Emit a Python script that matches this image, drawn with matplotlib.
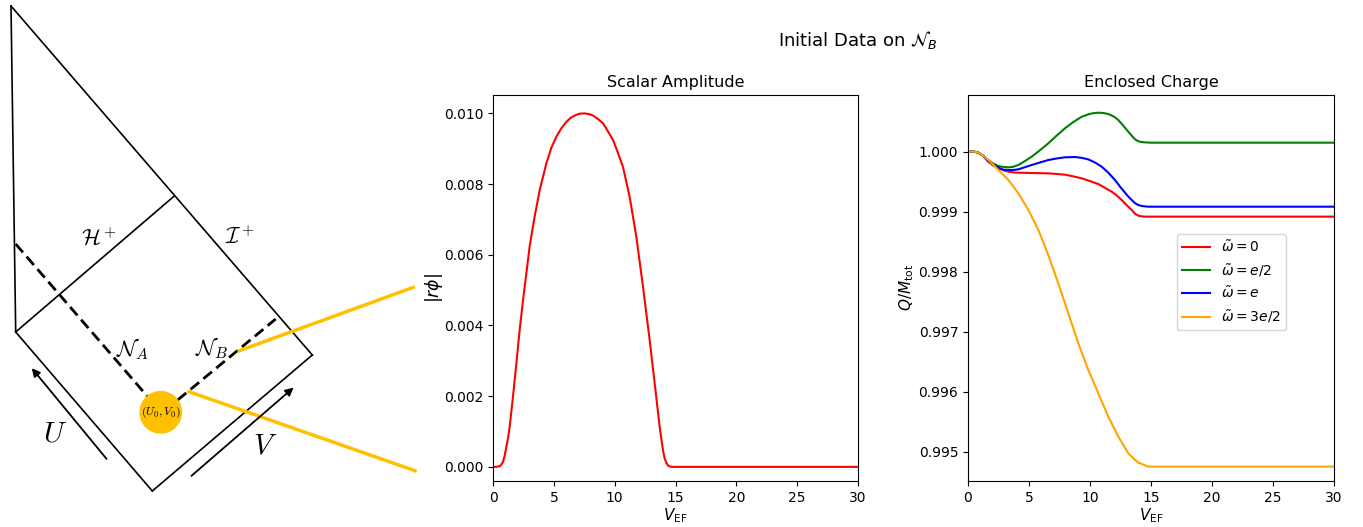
import matplotlib
matplotlib.use("Agg")
import matplotlib.pyplot as plt
from matplotlib.patches import Circle

# ---- data ----
v_amp = [0, 0.3, 0.55, 0.68, 0.82, 0.95, 1.10, 1.23, 1.37, 1.64, 1.92, 2.19, 2.47,
         2.74, 3.01, 3.42, 3.84, 4.38, 4.8, 5.21, 5.6, 6.03, 6.4, 6.85, 7.1, 7.53,
         7.9, 8.22, 8.6, 9.04, 9.4, 9.86, 10.2, 10.68, 11.23, 11.78, 12.33, 12.88,
         13.29, 13.70, 13.97, 14.1, 14.25, 14.38, 14.52, 14.7, 15.34, 30]
r_phi = [0, 0, 0.00002, 0.00006, 0.00014, 0.0003, 0.00057, 0.0008, 0.00113, 0.00198,
         0.00292, 0.00387, 0.00472, 0.00547, 0.00623, 0.00708, 0.00783, 0.00858,
         0.00903, 0.00934, 0.00957, 0.00976, 0.00988, 0.00996, 0.00999, 0.01000,
         0.00998, 0.00994, 0.00985, 0.00972, 0.00952, 0.00925, 0.00895, 0.00849,
         0.00764, 0.00651, 0.00509, 0.00358, 0.00236, 0.00113, 0.00047, 0.00025,
         0.00011, 0.00004, 0.00001, 0, 0, 0]

v_red = [0, 0.5, 0.85, 1.25, 1.67, 2.08, 2.49, 2.9, 3.31, 3.7, 4.13, 5.22, 6.58, 7.95,
         8.6, 9.32, 10.0, 10.68, 11.2, 11.78, 12.2, 12.6, 13.0, 13.42, 13.7, 13.96,
         14.2, 14.51, 30]
q_red = [1.0, 1.0, 0.999983, 0.99993, 0.999833, 0.99977, 0.999722, 0.99969, 0.999667,
         0.999655, 0.99965, 0.999644, 0.999639, 0.999617, 0.99959, 0.999556, 0.99951,
         0.999461, 0.9994, 0.999333, 0.99927, 0.999194, 0.99911, 0.999028, 0.998965,
         0.998933, 0.998922, 0.998917, 0.998917]

v_green = [0, 0.5, 0.85, 1.25, 1.67, 2.08, 2.49, 2.9, 3.31, 3.7, 4.13, 4.6, 5.22, 5.9,
           6.58, 7.25, 7.95, 8.6, 9.32, 9.9, 10.3, 10.68, 11.1, 11.5, 12.0, 12.32, 12.7,
           13.14, 13.45, 13.69, 13.95, 14.23, 14.6, 15.05, 30]
q_green = [1.0, 1.0, 0.999983, 0.99993, 0.999861, 0.99980, 0.999761, 0.999745,
           0.999739, 0.999748, 0.999778, 0.999835, 0.999917, 1.000025, 1.000139,
           1.000265, 1.000389, 1.00049, 1.000583, 1.000625, 1.000643, 1.00065,
           1.000645, 1.000628, 1.00058, 1.000528, 1.00044, 1.000333, 1.00026,
           1.000206, 1.000175, 1.000161, 1.000154, 1.00015, 1.00015]

v_blue = [0, 0.5, 0.85, 1.25, 1.67, 2.08, 2.49, 2.9, 3.31, 3.7, 4.13, 5.22, 6.0, 6.58,
          7.3, 7.95, 8.77, 9.3, 9.86, 10.4, 10.96, 11.5, 12.05, 12.45, 12.87, 13.15,
          13.42, 13.7, 13.96, 14.3, 14.78, 30]
q_blue = [1.0, 1.0, 0.999983, 0.99993, 0.999844, 0.99978, 0.999733, 0.99970, 0.999694,
          0.999695, 0.999706, 0.999778, 0.999826, 0.999861, 0.999888, 0.999906,
          0.999911, 0.999898, 0.999872, 0.99982, 0.99975, 0.99965, 0.999528, 0.99942,
          0.999317, 0.99925, 0.999194, 0.99914, 0.999111, 0.999092, 0.999083, 0.999083]

v_orange = [0, 0.5, 0.85, 1.25, 1.67, 2.08, 2.49, 3.31, 4.13, 4.95, 5.77, 6.58, 7.40,
            8.22, 9.04, 9.86, 10.68, 11.5, 12.32, 13.14, 13.6, 13.96, 14.4, 14.78, 30]
q_orange = [1.0, 1.0, 0.999983, 0.99993, 0.999861, 0.99978, 0.999694, 0.999528,
            0.999306, 0.999028, 0.998694, 0.998278, 0.997806, 0.997306, 0.996806,
            0.996361, 0.995972, 0.995583, 0.99525, 0.994972, 0.99488, 0.994817,
            0.99478, 0.99475, 0.99475]

labels = [r'$\tilde{\omega}=0$', r'$\tilde{\omega}=e/2$', r'$\tilde{\omega}=e$',
          r'$\tilde{\omega}=3e/2$']
colors = ['red', 'green', 'blue', 'orange']

# ---- diagram geometry (pixel positions in the left panel) ----
apex = (11, 6)
left_corner = (15.7, 332)
right_corner = (312.3, 355)
bottom_corner = (152.3, 491)
horizon_top = (174.3, 196)
na_line = [(15.7, 244), (147.7, 396.7)]
nb_line = [(177.7, 400), (275.7, 319)]
dot = (160.7, 412.3)
gold = '#ffc000'

fig = plt.figure(figsize=(13.63, 5.27), dpi=100)

# left panel: conformal diagram
ax0 = fig.add_axes([0, 0, 420 / 1363, 1])
ax0.set_xlim(0, 420)
ax0.set_ylim(527, 0)
ax0.axis('off')

def seg(p, q, **kw):
    ax0.plot([p[0], q[0]], [p[1], q[1]], **kw)

seg(apex, left_corner, color='k', lw=1.2)
seg(apex, right_corner, color='k', lw=1.2)
seg(left_corner, horizon_top, color='k', lw=1.2)
seg(left_corner, bottom_corner, color='k', lw=1.2)
seg(bottom_corner, right_corner, color='k', lw=1.2)
seg(na_line[0], na_line[1], color='k', lw=2, dashes=(4, 2))
seg(nb_line[0], nb_line[1], color='k', lw=2, dashes=(4, 2))
seg((239.3, 350.7), (413.3, 287.3), color=gold, lw=2.5)
seg((189, 391.7), (415, 470.7), color=gold, lw=2.5)
ax0.add_patch(Circle(dot, 20.7, color=gold, zorder=3))
ax0.text(dot[0], dot[1], r'$(U_0,V_0)$', ha='center', va='center', fontsize=8.5,
         math_fontfamily='cm', zorder=4)
ax0.annotate('', xy=(30, 366), xytext=(108.3, 461),
             arrowprops=dict(arrowstyle='-|>', color='k', lw=1.3, mutation_scale=12))
ax0.annotate('', xy=(295.7, 385.7), xytext=(189.3, 477.7),
             arrowprops=dict(arrowstyle='-|>', color='k', lw=1.3, mutation_scale=12))
ax0.text(99, 238, r'$\mathcal{H}^+$', ha='center', va='center', fontsize=16, math_fontfamily='cm')
ax0.text(240, 237, r'$\mathcal{I}^+$', ha='center', va='center', fontsize=16, math_fontfamily='cm')
ax0.text(132.7, 349, r'$\mathcal{N}_A$', ha='center', va='center', fontsize=16, math_fontfamily='cm')
ax0.text(212, 348, r'$\mathcal{N}_B$', ha='center', va='center', fontsize=16, math_fontfamily='cm')
ax0.text(55, 433, r'$U$', ha='center', va='center', fontsize=21, math_fontfamily='cm')
ax0.text(265, 445, r'$V$', ha='center', va='center', fontsize=21, math_fontfamily='cm')

# middle panel
ax1 = fig.add_axes([493 / 1363, 46 / 527, 365 / 1363, 386 / 527])
ax1.plot(v_amp, r_phi, color='red')
ax1.set_xlim(0, 30)
ax1.set_ylim(-0.0004, 0.01052)
ax1.set_title('Scalar Amplitude', fontsize=11.5)
ax1.set_xlabel(r'$V_{\rm EF}$', fontsize=11, labelpad=1)
ax1.set_ylabel(r'$|r\phi|$', fontsize=12.5, labelpad=-1)

# right panel
ax2 = fig.add_axes([968 / 1363, 46 / 527, 366 / 1363, 386 / 527])
for v, q, c, lab in zip([v_red, v_green, v_blue, v_orange],
                        [q_red, q_green, q_blue, q_orange], colors, labels):
    ax2.plot(v, q, color=c, label=lab)
ax2.set_xlim(0, 30)
ax2.set_ylim(0.99451, 1.000945)
ax2.set_title('Enclosed Charge', fontsize=11.5)
ax2.set_xlabel(r'$V_{\rm EF}$', fontsize=11, labelpad=1)
ax2.set_ylabel(r'$Q/M_{\rm tot}$', fontsize=11, labelpad=2)
ax2.legend(loc='center left', bbox_to_anchor=(0.57, 0.515), borderaxespad=0)

fig.suptitle(r'Initial Data on $\mathcal{N}_B$', x=858 / 1363, y=0.924, va='center', fontsize=13)

fig.savefig('out.png', dpi=100)
